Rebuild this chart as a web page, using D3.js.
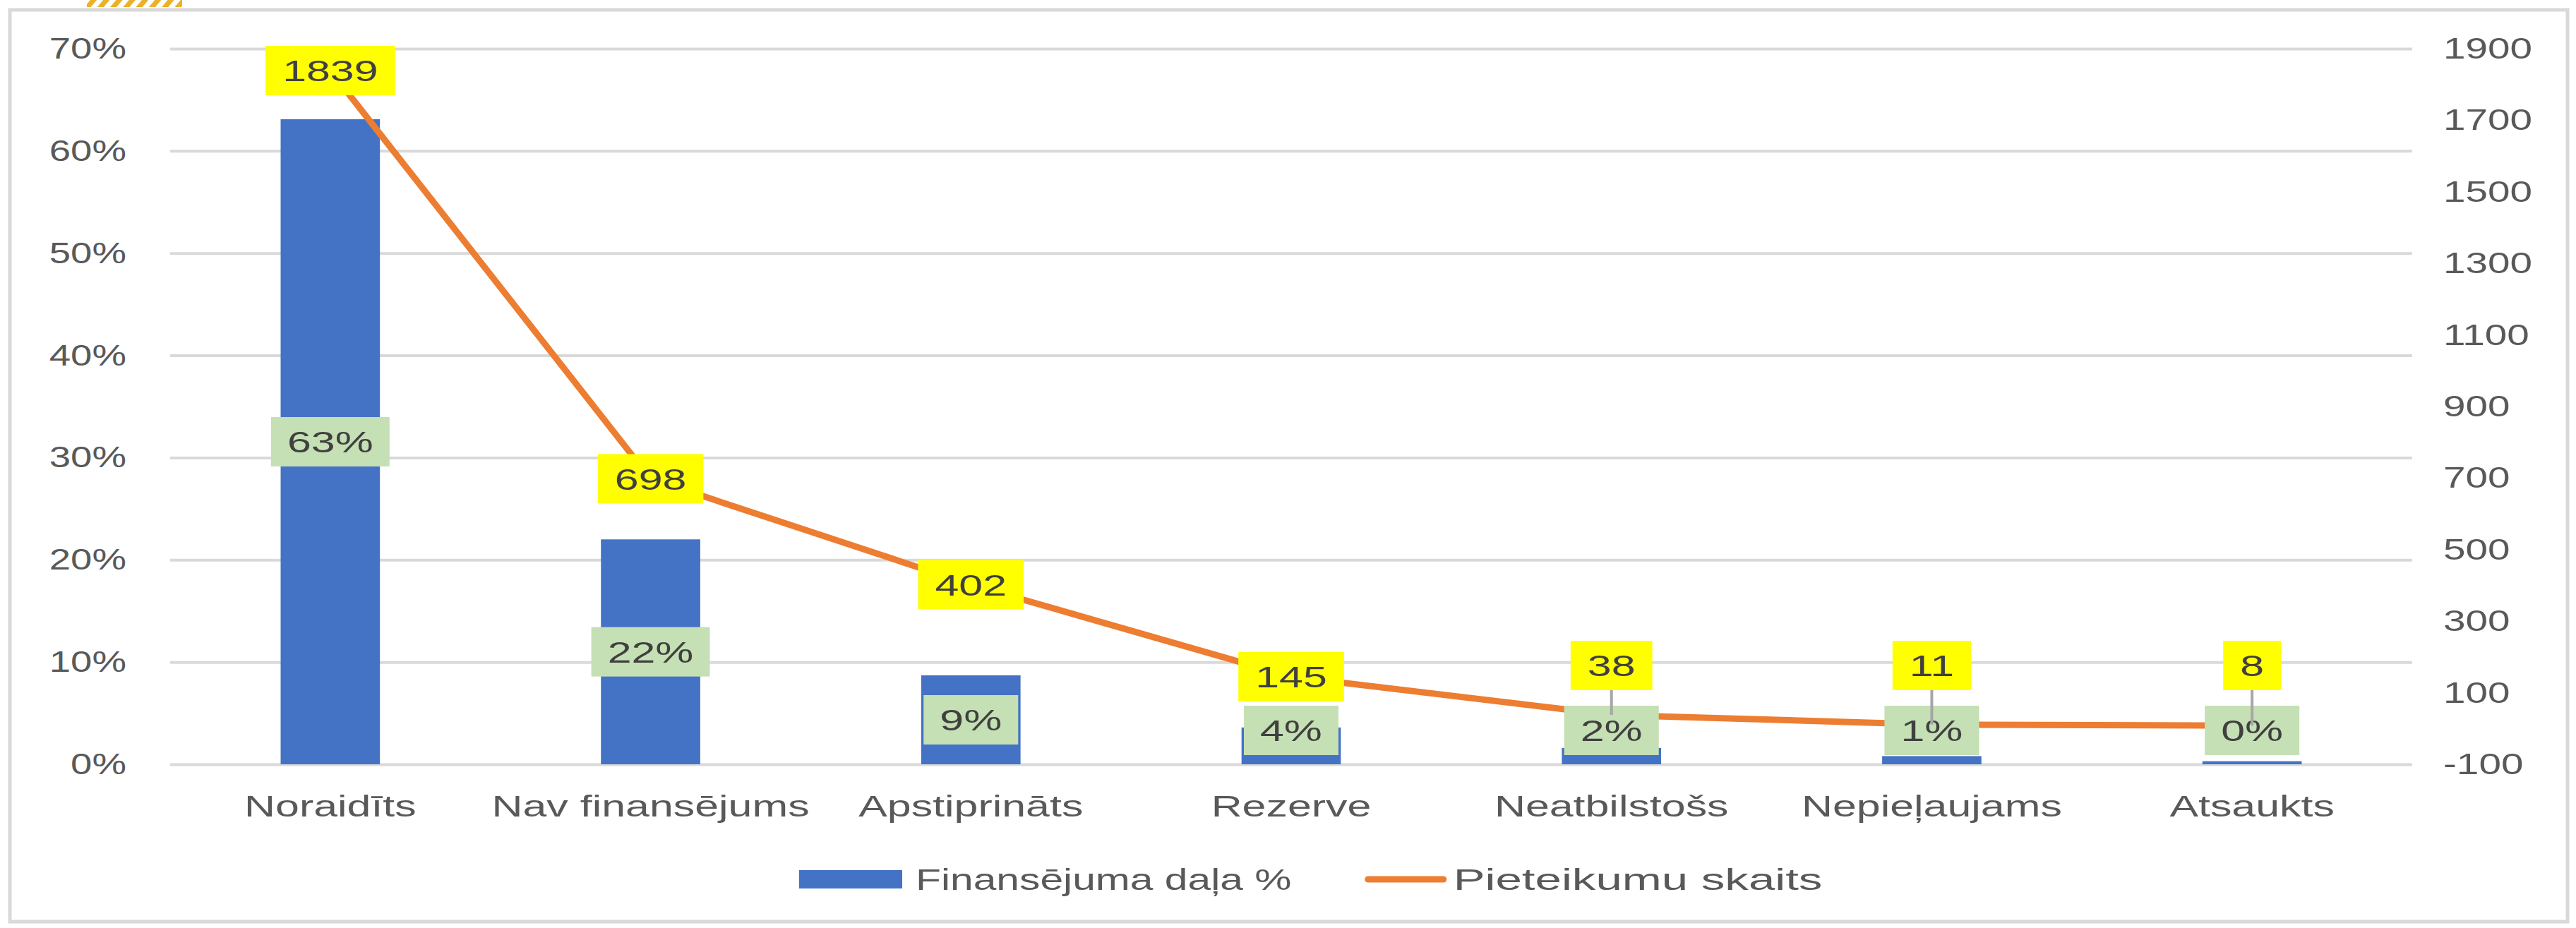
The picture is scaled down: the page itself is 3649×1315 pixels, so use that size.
<!DOCTYPE html>
<html>
<head>
<meta charset="utf-8">
<script src="https://cdn.jsdelivr.net/npm/d3@7"></script>
<style>
    html, body { margin: 0; padding: 0; background: #fff; }
    svg { display: block; }
    text { font-family: "Liberation Sans", Arial, sans-serif; }
</style>
</head>
<body>
<svg id="chart" width="3649" height="1315"></svg>
<script>
// categories and the two series
const categories = ["Noraidīts", "Nav finansējums", "Apstiprināts", "Rezerve", "Neatbilstošs", "Nepieļaujams", "Atsaukts"]
const shareValues = [0.631, 0.220, 0.087, 0.036, 0.016, 0.008, 0.003]
const countValues = [1839, 698, 402, 145, 38, 11, 8]
const leftTicks = [0, 0.1, 0.2, 0.3, 0.4, 0.5, 0.6, 0.7]
const rightTicks = [-100, 100, 300, 500, 700, 900, 1100, 1300, 1500, 1700, 1900]
const legendLabels = ["Finansējuma daļa %", "Pieteikumu skaits"]

const margin = {left: 241, right: 3417, top: 69, bottom: 1083}
const FONT = 42
const SX = 1.45 // text in the picture is stretched sideways
const SX_TICK = 1.3

const BLUE = "#4472C4", ORANGE = "#ED7D31", GRID = "#D9D9D9"
const AXIS_TEXT = "#595959", LABEL_TEXT = "#404040"

const svg = d3.select("#chart")

// stretch a text element horizontally around its anchor
function stretch(sel, sx = SX) {
    sel.each(function () {
        const t = d3.select(this)
        const x = +t.attr("x") || 0
        const y = +t.attr("y") || 0
        t.attr("x", 0).attr("y", 0)
            .attr("transform", `translate(${x},${y}) scale(${sx},1)`)
    })
}

// small hatched tab at the top left
const defs = svg.append("defs")
defs.append("pattern")
    .attr("id", "hatch")
    .attr("patternUnits", "userSpaceOnUse")
    .attr("width", 14).attr("height", 14)
    .attr("patternTransform", "rotate(40)")
    .append("rect")
    .attr("width", 7).attr("height", 14)
    .attr("fill", "#E9B227")
svg.append("rect")
    .attr("x", 123).attr("y", 0).attr("width", 135).attr("height", 10)
    .attr("fill", "url(#hatch)")

// chart border
svg.append("rect")
    .attr("x", 14).attr("y", 14)
    .attr("width", 3623).attr("height", 1292)
    .attr("fill", "#fff")
    .attr("stroke", GRID).attr("stroke-width", 5)

const x = d3.scaleBand()
    .domain(categories)
    .range([margin.left, margin.right])
    .paddingInner(0.69)
    .paddingOuter(0.345)

const yL = d3.scaleLinear().domain([0, 0.7]).range([margin.bottom, margin.top])
const yR = d3.scaleLinear().domain([-100, 1900]).range([margin.bottom, margin.top])

const cx = c => x(c) + x.bandwidth() / 2

// left axis with gridlines
const leftAxis = svg.append("g")
    .attr("transform", `translate(${margin.left},0)`)
    .call(d3.axisLeft(yL)
        .tickValues(leftTicks)
        .tickFormat(d3.format(".0%"))
        .tickSizeInner(-(margin.right - margin.left))
        .tickSizeOuter(0)
        .tickPadding(62))
leftAxis.select(".domain").remove()
leftAxis.selectAll("line").attr("stroke", GRID).attr("stroke-width", 4)
leftAxis.selectAll("text")
    .attr("fill", AXIS_TEXT)
    .attr("font-size", FONT)
    .call(stretch, SX_TICK)

// right axis, labels only
const rightAxis = svg.append("g")
    .attr("transform", `translate(${margin.right},0)`)
    .call(d3.axisRight(yR)
        .tickValues(rightTicks)
        .tickFormat(d => String(d))
        .tickSize(0)
        .tickPadding(44))
rightAxis.select(".domain").remove()
rightAxis.selectAll("text")
    .attr("fill", AXIS_TEXT)
    .attr("font-size", FONT)
    .call(stretch, SX_TICK + 0.05)

// category axis
const bottomAxis = svg.append("g")
    .attr("transform", `translate(0,${margin.bottom})`)
    .call(d3.axisBottom(x).tickSize(0).tickPadding(44))
bottomAxis.select(".domain").remove()
bottomAxis.selectAll("text")
    .attr("fill", AXIS_TEXT)
    .attr("font-size", FONT)
    .call(stretch)

const data = categories.map((c, i) => ({cat: c, share: shareValues[i], count: countValues[i]}))

// bars
svg.append("g").selectAll("rect")
    .data(data)
    .enter()
    .append("rect")
    .attr("x", d => x(d.cat))
    .attr("width", x.bandwidth())
    .attr("y", d => yL(d.share))
    .attr("height", d => yL(0) - yL(d.share))
    .attr("fill", BLUE)

// line
svg.append("path")
    .datum(data)
    .attr("fill", "none")
    .attr("stroke", ORANGE)
    .attr("stroke-width", 9)
    .attr("stroke-linejoin", "round")
    .attr("d", d3.line().x(d => cx(d.cat)).y(d => yR(d.count)))

// boxed label helper
function boxLabel(g, text, cxPos, cyPos, fill, pad) {
    const t = g.append("text")
        .attr("x", cxPos).attr("y", cyPos)
        .attr("dy", "0.36em")
        .attr("text-anchor", "middle")
        .attr("font-size", FONT)
        .attr("fill", LABEL_TEXT)
        .text(text)
    const w = t.node().getComputedTextLength() * SX + 2 * pad
    const h = 70
    g.insert("rect", "text")
        .attr("x", cxPos - w / 2).attr("y", cyPos - h / 2)
        .attr("width", w).attr("height", h)
        .attr("fill", fill)
    t.call(stretch)
}

// bar labels
const pct = d3.format(".0%")
data.forEach(d => {
    const mid = (yL(d.share) + yL(0)) / 2
    const cy = Math.min(mid, yL(0) - 48)
    boxLabel(svg.append("g"), pct(d.share), cx(d.cat), cy, "#C5E0B4", 23)
})

// line labels, low ones lifted with a leader line
data.forEach(d => {
    const py = yR(d.count)
    let cy = py
    if (py > yL(0) - 80) {
        cy = Math.min(py - 70, yL(0) - 140)
        svg.append("line")
            .attr("x1", cx(d.cat)).attr("x2", cx(d.cat))
            .attr("y1", cy + 35).attr("y2", py)
            .attr("stroke", "#A6A6A6").attr("stroke-width", 4)
    }
    boxLabel(svg.append("g"), d.count, cx(d.cat), cy, "#FFFF00", 24)
})

// legend
const legend = svg.append("g")
const legY = 1246
let lx = 1132
legend.append("rect")
    .attr("x", lx).attr("y", legY - 13)
    .attr("width", 146).attr("height", 26)
    .attr("fill", BLUE)
lx += 146 + 19
const lt1 = legend.append("text")
    .attr("x", lx).attr("y", legY).attr("dy", "0.36em")
    .attr("font-size", FONT).attr("fill", AXIS_TEXT)
    .text(legendLabels[0])
lx += lt1.node().getComputedTextLength() * 1.4 + 103
lt1.call(stretch, 1.4)
legend.append("line")
    .attr("x1", lx + 5).attr("x2", lx + 112)
    .attr("y1", legY).attr("y2", legY)
    .attr("stroke", ORANGE).attr("stroke-width", 9)
    .attr("stroke-linecap", "round")
lx += 126
legend.append("text")
    .attr("x", lx).attr("y", legY).attr("dy", "0.36em")
    .attr("font-size", FONT).attr("fill", AXIS_TEXT)
    .text(legendLabels[1])
    .call(stretch, 1.6)
</script>
</body>
</html>
